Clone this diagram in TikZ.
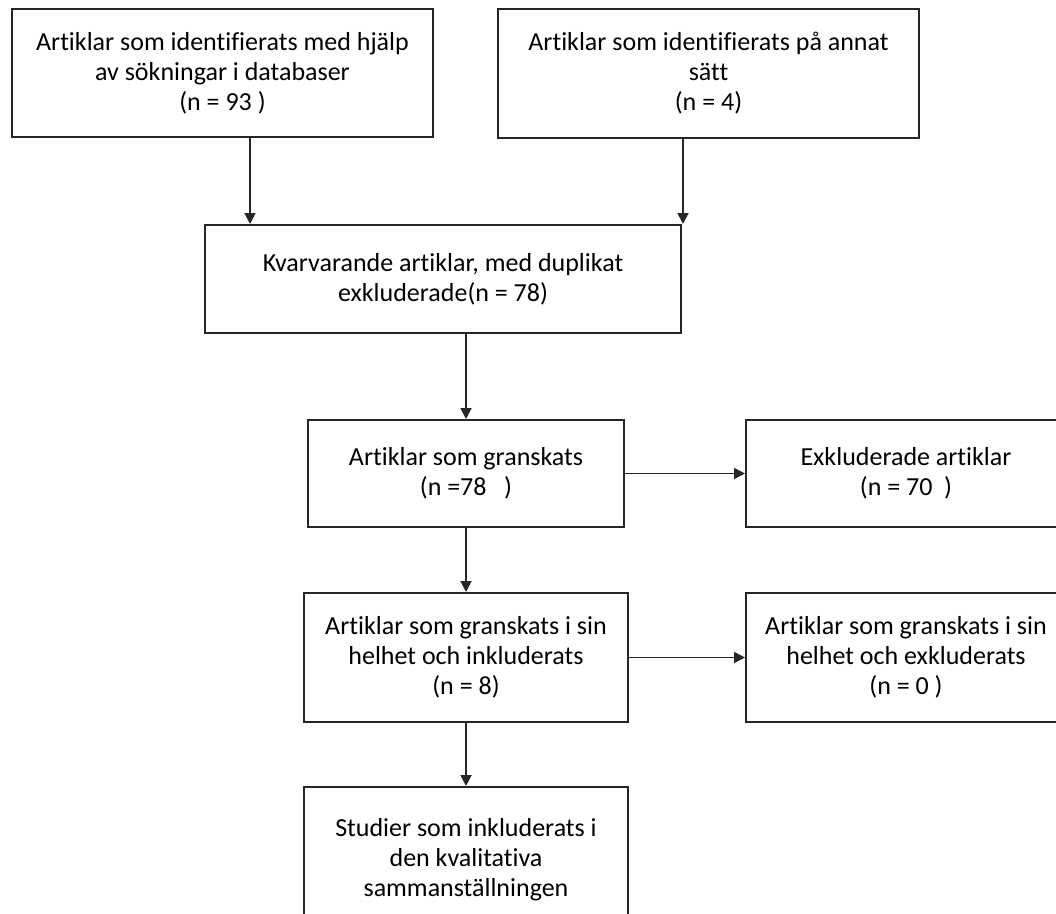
\documentclass[tikz,border=0pt]{standalone}
\usepackage{fontspec}
\setmainfont[Ligatures=NoCommon]{Carlito}
\usepackage{tikz}
\usetikzlibrary{arrows.meta}

\begin{document}
\begin{tikzpicture}[x=1pt,y=-1pt,
    box/.style={draw=black!85,line width=2pt,align=center,inner sep=0pt,
      font=\fontsize{26}{30}\selectfont},
    arr/.style={draw=black!85,line width=1.8pt,-{Triangle[length=11pt,width=11pt]}}]
    \useasboundingbox (0,0) rectangle (1056,913);
    \clip (0,0) rectangle (1056,913);
    % boxes, top to bottom
    \node[box,minimum width=421,minimum height=128] (sok) at (222.5,73)
      {Artiklar som identifierats med hjälp\\av sökningar i databaser\\(n = 93 )};
    \node[box,minimum width=421,minimum height=129] (annat) at (708.5,73.5)
      {Artiklar som identifierats på annat\\sätt\\(n = 4)};
    \node[box,minimum width=476,minimum height=108] (kvar) at (443,279)
      {Kvarvarande artiklar, med duplikat\\exkluderade(n = 78)};
    \node[box,minimum width=316,minimum height=107] (gransk) at (466,473.5)
      {Artiklar som granskats\\(n =78\ \ \ )};
    \node[box,minimum width=320,minimum height=107] (exkl) at (906,473.5)
      {Exkluderade artiklar\\(n = 70\ \ )};
    \node[box,minimum width=324,minimum height=129] (helink) at (466,657.5)
      {Artiklar som granskats i sin\\helhet och inkluderats\\(n = 8)};
    \node[box,minimum width=320,minimum height=129] (helexkl) at (906,657.5)
      {Artiklar som granskats i sin\\helhet och exkluderats\\(n = 0 )};
    \node[box,minimum width=324,minimum height=146] (studier) at (466,860)
      {Studier som inkluderats i\\den kvalitativa\\sammanställningen};
    % arrows
    \draw[arr] (sok.south -| 250,0) -- (kvar.north -| 250,0);
    \draw[arr] (annat.south -| 683,0) -- (kvar.north -| 683,0);
    \draw[arr] (kvar.south -| gransk.north) -- (gransk.north);
    \draw[arr] (gransk.south) -- (helink.north);
    \draw[arr] (helink.south) -- (studier.north);
    \draw[arr] (gransk.east) -- (exkl.west);
    \draw[arr] (helink.east) -- (helexkl.west);
\end{tikzpicture}
\end{document}
